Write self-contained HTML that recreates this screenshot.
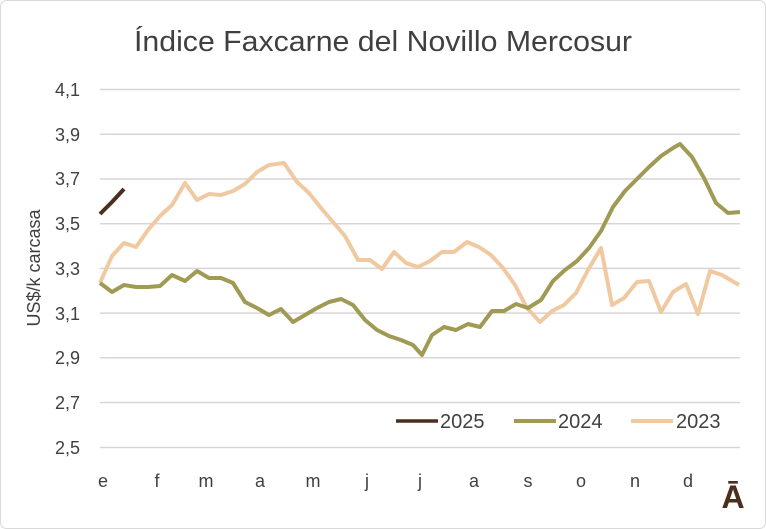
<!DOCTYPE html>
<html><head><meta charset="utf-8"><style>
body{margin:0;background:#fff}
svg{display:block;font-family:"Liberation Sans",sans-serif}
</style></head><body>
<svg width="766" height="529" viewBox="0 0 766 529">
<rect x="0.5" y="0.5" width="765" height="528" rx="6" fill="#fff" stroke="#d9d9d9"/>
<text x="383" y="51" font-size="29" fill="#404040" text-anchor="middle" textLength="498" lengthAdjust="spacingAndGlyphs">Índice Faxcarne del Novillo Mercosur</text>
<g stroke="#d9d4d6" stroke-width="1.5">
<line x1="100" x2="740" y1="89.5" y2="89.5"/><line x1="100" x2="740" y1="134.3" y2="134.3"/>
<line x1="100" x2="740" y1="179" y2="179"/><line x1="100" x2="740" y1="223.7" y2="223.7"/>
<line x1="100" x2="740" y1="268.4" y2="268.4"/><line x1="100" x2="740" y1="313.1" y2="313.1"/>
<line x1="100" x2="740" y1="357.8" y2="357.8"/><line x1="100" x2="740" y1="402.5" y2="402.5"/>
<line x1="100" x2="740" y1="447.5" y2="447.5"/>
</g>
<g font-size="18" fill="#404040" text-anchor="end">
<text x="80" y="96">4,1</text><text x="80" y="141">3,9</text><text x="80" y="185">3,7</text>
<text x="80" y="230">3,5</text><text x="80" y="275">3,3</text><text x="80" y="320">3,1</text>
<text x="80" y="364">2,9</text><text x="80" y="409">2,7</text><text x="80" y="454">2,5</text>
</g>
<text transform="translate(40,268) rotate(-90)" font-size="18" fill="#404040" text-anchor="middle">US$/k carcasa</text>
<g font-size="18" fill="#404040" text-anchor="middle">
<text x="103" y="487">e</text><text x="157" y="487">f</text><text x="206" y="487">m</text>
<text x="260" y="487">a</text><text x="313" y="487">m</text><text x="367" y="487">j</text>
<text x="420" y="487">j</text><text x="474" y="487">a</text><text x="528" y="487">s</text>
<text x="581" y="487">o</text><text x="635" y="487">n</text><text x="688" y="487">d</text>
</g>
<text x="733" y="508" font-size="32" font-weight="bold" fill="#4a2e1e" text-anchor="middle">Ā</text>
<g fill="none" stroke-width="4" stroke-linejoin="round">
<polyline stroke="#f0c9a0" points="100,283 112,256 124,243 136,247 148,230 160,216 172,205 185,183 197,200 209,194 221,195 233,191 245,184 257,172 269,165 284,163 297,182 309,193 321,208 333,222 345,236 358,260 370,260 382,269 394,252 406,263 418,267 430,261 442,252 454,252 467,242 479,247 491,255 503,268 515,285 527,308 540,322 552,311 564,305 576,293 588,270 601,248 612,305 624,298 637,282 649,281 661,312 673,292 686,284 698,314 710,271 722,275 739,285"/>
<polyline stroke="#a09a55" points="100,283 112,292 124,285 136,287 148,287 160,286 172,275 185,281 197,271 209,278 221,278 233,283 245,302 257,308 269,315 281,309 293,322 305,315 317,308 329,302 341,299 353,305 365,320 377,330 389,336 401,340 413,345 422,355 432,335 444,327 456,330 468,324 480,327 492,311 504,311 516,304 528,308 541,300 553,281 565,270 577,261 589,248 601,231 613,207 625,191 637,179 649,167 661,156 673,148 680,144 692,157 704,178 716,203 728,213 740,212"/>
<polyline stroke="#4a2e1e" stroke-width="4" points="100,214 112,202 124,189"/>
</g>
<g font-size="20" fill="#404040">
<line x1="396" x2="438" y1="421" y2="421" stroke="#4a2e1e" stroke-width="3.5"/>
<text x="440" y="428">2025</text>
<line x1="514" x2="556" y1="421" y2="421" stroke="#a09a55" stroke-width="4"/>
<text x="558" y="428">2024</text>
<line x1="631" x2="673" y1="421" y2="421" stroke="#f0c9a0" stroke-width="4"/>
<text x="676" y="428">2023</text>
</g>
</svg>
</body></html>
